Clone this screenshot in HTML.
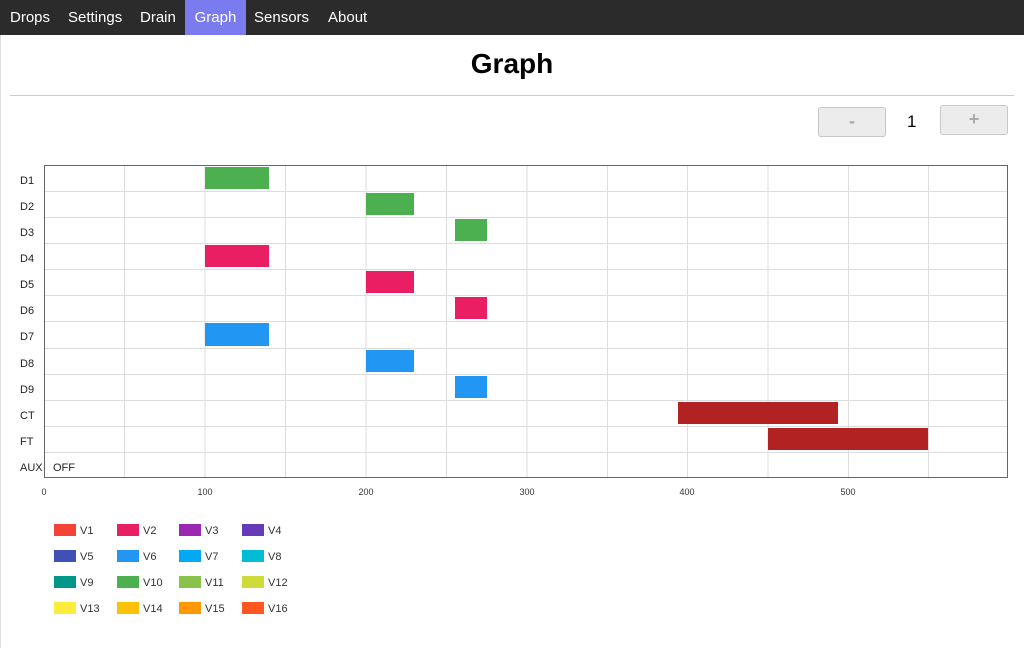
<!DOCTYPE html>
<html><head><meta charset="utf-8"><style>
body{margin:0;width:1024px;height:648px;background:#fff;font-family:"Liberation Sans",Arial,sans-serif;overflow:hidden;position:relative}
.nav{position:absolute;left:0;top:0;width:1024px;height:35px;background:#2b2b2b}
.nav span{position:absolute;top:0;height:35px;line-height:35px;color:#fff;font-size:15px}
h1{position:absolute;top:48px;left:0;width:1024px;text-align:center;margin:0;font-size:28px;font-weight:bold;color:#000}
.hr{position:absolute;left:10px;top:95px;width:1004px;height:1px;background:#ccc}
.btn{position:absolute;width:66px;height:28px;border:1px solid #c8c8c8;border-radius:3px;background:#ececec;color:#aaa;font-size:18px;text-align:center;line-height:27px;font-weight:bold}
</style></head><body>
<div style="position:absolute;left:0;top:0;width:1px;height:648px;background:#ddd"></div>
<div class="nav">
<span style="left:10px">Drops</span>
<span style="left:68px">Settings</span>
<span style="left:140px">Drain</span>
<span style="left:185px;width:61px;background:#7b7bf0;text-align:center">Graph</span>
<span style="left:254px">Sensors</span>
<span style="left:328px">About</span>
</div>
<h1>Graph</h1>
<div class="hr"></div>
<div class="btn" style="left:818px;top:107px">-</div>
<div style="position:absolute;left:907px;top:112px;font-size:17px">1</div>
<div class="btn" style="left:940px;top:105px">+</div>
<svg width="1024" height="648" style="position:absolute;left:0;top:0" font-family="Liberation Sans,Arial,sans-serif">
<g stroke="#ddd" stroke-width="1">
<line x1="124.5" y1="165" x2="124.5" y2="478"/><line x1="205" y1="165" x2="205" y2="478"/><line x1="285.5" y1="165" x2="285.5" y2="478"/><line x1="366" y1="165" x2="366" y2="478"/><line x1="446.5" y1="165" x2="446.5" y2="478"/><line x1="527" y1="165" x2="527" y2="478"/><line x1="607.5" y1="165" x2="607.5" y2="478"/><line x1="687.5" y1="165" x2="687.5" y2="478"/><line x1="768" y1="165" x2="768" y2="478"/><line x1="848.5" y1="165" x2="848.5" y2="478"/><line x1="928.5" y1="165" x2="928.5" y2="478"/>
<line x1="44" y1="191.5" x2="1008" y2="191.5"/><line x1="44" y1="217.5" x2="1008" y2="217.5"/><line x1="44" y1="243.5" x2="1008" y2="243.5"/><line x1="44" y1="269.5" x2="1008" y2="269.5"/><line x1="44" y1="295.5" x2="1008" y2="295.5"/><line x1="44" y1="321.5" x2="1008" y2="321.5"/><line x1="44" y1="348.5" x2="1008" y2="348.5"/><line x1="44" y1="374.5" x2="1008" y2="374.5"/><line x1="44" y1="400.5" x2="1008" y2="400.5"/><line x1="44" y1="426.5" x2="1008" y2="426.5"/><line x1="44" y1="452.5" x2="1008" y2="452.5"/>
</g>
<rect x="44.5" y="165.5" width="963" height="312" fill="none" stroke="#666" stroke-width="1"/>
<g fill="#4caf50"><rect x="205" y="167" width="64" height="22"/><rect x="366" y="193" width="48" height="22"/><rect x="455" y="219" width="32" height="22"/></g>
<g fill="#e91e63"><rect x="205" y="245" width="64" height="22"/><rect x="366" y="271" width="48" height="22"/><rect x="455" y="297" width="32" height="22"/></g>
<g fill="#2196f3"><rect x="205" y="323" width="64" height="23"/><rect x="366" y="350" width="48" height="22"/><rect x="455" y="376" width="32" height="22"/></g>
<g fill="#b22222"><rect x="678" y="402" width="160" height="22"/><rect x="768" y="428" width="160" height="22"/></g>
<g font-size="11" fill="#222">
<text x="20" y="184">D1</text><text x="20" y="210">D2</text><text x="20" y="236">D3</text><text x="20" y="262">D4</text><text x="20" y="288">D5</text><text x="20" y="314">D6</text><text x="20" y="340">D7</text><text x="20" y="367">D8</text><text x="20" y="393">D9</text><text x="20" y="419">CT</text><text x="20" y="445">FT</text><text x="20" y="471">AUX</text>
<text x="53" y="471">OFF</text>
</g>
<g font-size="9" fill="#333" text-anchor="middle">
<text x="44" y="495">0</text><text x="205" y="495">100</text><text x="366" y="495">200</text><text x="527" y="495">300</text><text x="687" y="495">400</text><text x="848" y="495">500</text>
</g>
<g font-size="11" fill="#333">
<rect x="54" y="524" width="22" height="12" fill="#f44336"/><text x="80" y="534">V1</text>
<rect x="117" y="524" width="22" height="12" fill="#e91e63"/><text x="143" y="534">V2</text>
<rect x="179" y="524" width="22" height="12" fill="#9c27b0"/><text x="205" y="534">V3</text>
<rect x="242" y="524" width="22" height="12" fill="#673ab7"/><text x="268" y="534">V4</text>
<rect x="54" y="550" width="22" height="12" fill="#3f51b5"/><text x="80" y="560">V5</text>
<rect x="117" y="550" width="22" height="12" fill="#2196f3"/><text x="143" y="560">V6</text>
<rect x="179" y="550" width="22" height="12" fill="#03a9f4"/><text x="205" y="560">V7</text>
<rect x="242" y="550" width="22" height="12" fill="#00bcd4"/><text x="268" y="560">V8</text>
<rect x="54" y="576" width="22" height="12" fill="#009688"/><text x="80" y="586">V9</text>
<rect x="117" y="576" width="22" height="12" fill="#4caf50"/><text x="143" y="586">V10</text>
<rect x="179" y="576" width="22" height="12" fill="#8bc34a"/><text x="205" y="586">V11</text>
<rect x="242" y="576" width="22" height="12" fill="#cddc39"/><text x="268" y="586">V12</text>
<rect x="54" y="602" width="22" height="12" fill="#ffeb3b"/><text x="80" y="612">V13</text>
<rect x="117" y="602" width="22" height="12" fill="#ffc107"/><text x="143" y="612">V14</text>
<rect x="179" y="602" width="22" height="12" fill="#ff9800"/><text x="205" y="612">V15</text>
<rect x="242" y="602" width="22" height="12" fill="#ff5722"/><text x="268" y="612">V16</text>
</g>
</svg>
</body></html>
